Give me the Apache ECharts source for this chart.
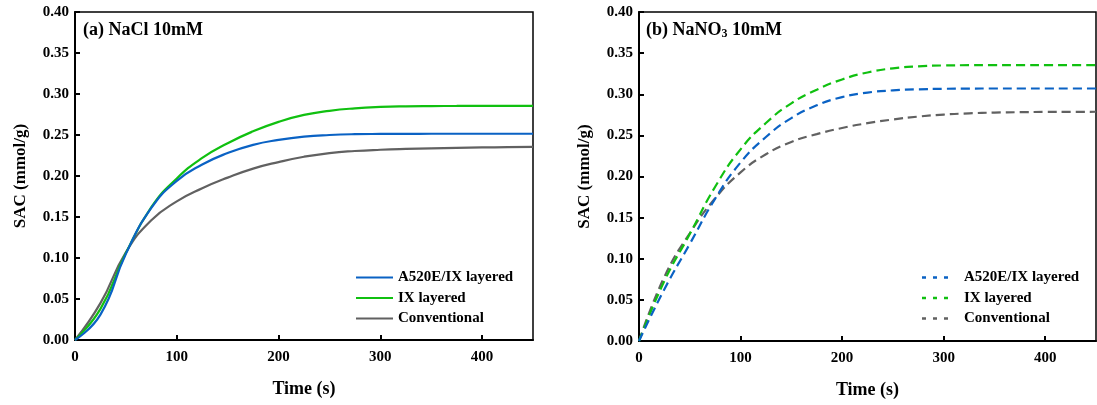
<!DOCTYPE html>
<html>
<head>
<meta charset="utf-8">
<title>SAC vs time</title>
<script src="https://cdn.jsdelivr.net/npm/echarts@6/dist/echarts.min.js"></script>
<style>
  html, body { margin: 0; padding: 0; background: #fff; }
  #chart { width: 1097px; height: 405px; }
</style>
</head>
<body>
<div id="chart"></div>
<script>
// sampled time points (s), shared by both panels
const timeS = [0, 25, 50, 75, 100, 125, 150, 175, 200, 225, 250, 275, 300, 325, 350, 375, 400, 425, 450];

// (a) NaCl 10 mM, SAC (mmol/g)
const naclA520E = [0, 0.031, 0.105, 0.161, 0.194, 0.214, 0.228, 0.238, 0.244, 0.248, 0.250, 0.251, 0.2513, 0.2514, 0.2515, 0.2515, 0.2515, 0.2515, 0.2515];
const naclIX    = [0, 0.038, 0.106, 0.162, 0.197, 0.222, 0.240, 0.2545, 0.266, 0.2745, 0.2795, 0.2825, 0.2842, 0.2850, 0.2853, 0.2854, 0.2855, 0.2855, 0.2855];
const naclConv  = [0, 0.045, 0.107, 0.146, 0.169, 0.185, 0.198, 0.209, 0.217, 0.2235, 0.228, 0.2305, 0.232, 0.233, 0.2337, 0.2343, 0.2348, 0.2351, 0.2354];

// (b) NaNO3 10 mM, SAC (mmol/g)
const no3A520E = [0, 0.063, 0.118, 0.173, 0.217, 0.248, 0.271, 0.2865, 0.2965, 0.302, 0.3047, 0.306, 0.3066, 0.3069, 0.307, 0.307, 0.307, 0.307, 0.307];
const no3IX    = [0, 0.073, 0.130, 0.1875, 0.233, 0.265, 0.289, 0.3055, 0.318, 0.3265, 0.3315, 0.334, 0.335, 0.3353, 0.3355, 0.3355, 0.3355, 0.3355, 0.3355];
const no3Conv  = [0, 0.078, 0.131, 0.1735, 0.205, 0.227, 0.242, 0.2515, 0.259, 0.2648, 0.2693, 0.2728, 0.2753, 0.2768, 0.2777, 0.2782, 0.2785, 0.2786, 0.2787];

const seriesNames = ['A520E/IX layered', 'IX layered', 'Conventional'];
const seriesColors = ['#0a62c4', '#10c010', '#616161'];
const xTicks = { min: 0, max: 450, interval: 100 };
const yTicks = { min: 0, max: 0.40, interval: 0.05 };

const FONT = '"Liberation Serif", "Times New Roman", serif';
const pairs = (xs, ys) => xs.map((x, i) => [x, ys[i]]);

function xAxisFor(gridIndex) {
  return {
    type: 'value', gridIndex,
    min: xTicks.min, max: xTicks.max, interval: xTicks.interval,
    name: 'Time (s)', nameLocation: 'middle', nameGap: 40,
    nameTextStyle: { fontFamily: FONT, fontWeight: 'bold', fontSize: 18, color: '#000' },
    axisLine: { onZero: false, lineStyle: { color: '#000', width: 2 } },
    axisTick: { inside: true, length: 5, lineStyle: { color: '#000', width: 2 } },
    axisLabel: { fontFamily: FONT, fontWeight: 'bold', fontSize: 15, color: '#000', margin: 10, showMaxLabel: false },
    splitLine: { show: false }
  };
}
function yAxisFor(gridIndex) {
  return {
    type: 'value', gridIndex,
    min: yTicks.min, max: yTicks.max, interval: yTicks.interval,
    name: 'SAC (mmol/g)', nameLocation: 'middle', nameGap: 46, nameRotate: 90,
    nameTextStyle: { fontFamily: FONT, fontWeight: 'bold', fontSize: 17, color: '#000' },
    axisLine: { onZero: false, lineStyle: { color: '#000', width: 2 } },
    axisTick: { inside: true, length: 5, lineStyle: { color: '#000', width: 2 } },
    axisLabel: { fontFamily: FONT, fontWeight: 'bold', fontSize: 15, color: '#000', margin: 6,
                 formatter: v => v.toFixed(2) },
    splitLine: { show: false }
  };
}
function lineSeries(name, color, xs, ys, idx, dashed) {
  return {
    type: 'line', name, xAxisIndex: idx, yAxisIndex: idx,
    data: pairs(xs, ys), smooth: 0.5, showSymbol: false, symbol: 'none',
    color,
    lineStyle: { color, width: 2.2, type: dashed ? [9, 5] : 'solid' },
    z: 5 - seriesNames.indexOf(name)
  };
}

// one legend component per row so each entry sits exactly where wanted
const legendRows = [277.5, 298, 318.5];
const dashIcon = 'path://M0,0H4V2H0ZM11,0H15V2H11ZM22,0H26V2H22Z';
const legendText = { fontFamily: FONT, fontWeight: 'bold', fontSize: 15, color: '#000', lineHeight: 16 };
const legends = [];
seriesNames.forEach((name, i) => {
  legends.push({
    data: [name], orient: 'vertical', left: 356, top: legendRows[i] - 8, padding: 0,
    icon: 'rect', itemWidth: 37, itemHeight: 2, selectedMode: false,
    itemStyle: { borderWidth: 0, color: seriesColors[i] },
    textStyle: legendText
  });
  legends.push({
    data: [name], orient: 'vertical', left: 922, top: legendRows[i] - 8, padding: 0,
    icon: dashIcon, symbolKeepAspect: false, itemWidth: 26, itemHeight: 2.5, selectedMode: false,
    itemStyle: { borderWidth: 0, color: seriesColors[i] },
    textStyle: Object.assign({ padding: [0, 0, 0, 11] }, legendText)
  });
});

const option = {
  backgroundColor: '#fff',
  animation: false,
  title: [
    { text: '(a) NaCl 10mM', left: 83, top: 20, padding: 0,
      textStyle: { fontFamily: FONT, fontWeight: 'bold', fontSize: 18, color: '#000', lineHeight: 20 } },
    { text: '{m|(b) NaNO}{s|3}{m| 10mM}', left: 646, top: 20, padding: 0,
      textStyle: {
        fontFamily: FONT, fontWeight: 'bold', fontSize: 18, color: '#000',
        rich: {
          m: { fontFamily: FONT, fontWeight: 'bold', fontSize: 18, color: '#000', lineHeight: 20 },
          s: { fontFamily: FONT, fontWeight: 'bold', fontSize: 12, color: '#000', lineHeight: 20,
               verticalAlign: 'bottom', padding: [6, 0, 0, 0] }
        }
      } }
  ],
  legend: legends,
  grid: [
    { left: 75, top: 12, width: 458, height: 328, show: true, borderColor: '#000', borderWidth: 1.5, containLabel: false },
    { left: 639, top: 12, width: 457, height: 329, show: true, borderColor: '#000', borderWidth: 1.5, containLabel: false }
  ],
  xAxis: [xAxisFor(0), xAxisFor(1)],
  yAxis: [yAxisFor(0), yAxisFor(1)],
  series: [
    lineSeries(seriesNames[2], seriesColors[2], timeS, naclConv, 0, false),
    lineSeries(seriesNames[1], seriesColors[1], timeS, naclIX, 0, false),
    lineSeries(seriesNames[0], seriesColors[0], timeS, naclA520E, 0, false),
    lineSeries(seriesNames[2], seriesColors[2], timeS, no3Conv, 1, true),
    lineSeries(seriesNames[1], seriesColors[1], timeS, no3IX, 1, true),
    lineSeries(seriesNames[0], seriesColors[0], timeS, no3A520E, 1, true)
  ]
};

const chart = echarts.init(document.getElementById('chart'), null, { renderer: 'canvas' });
chart.setOption(option);
</script>
</body>
</html>
